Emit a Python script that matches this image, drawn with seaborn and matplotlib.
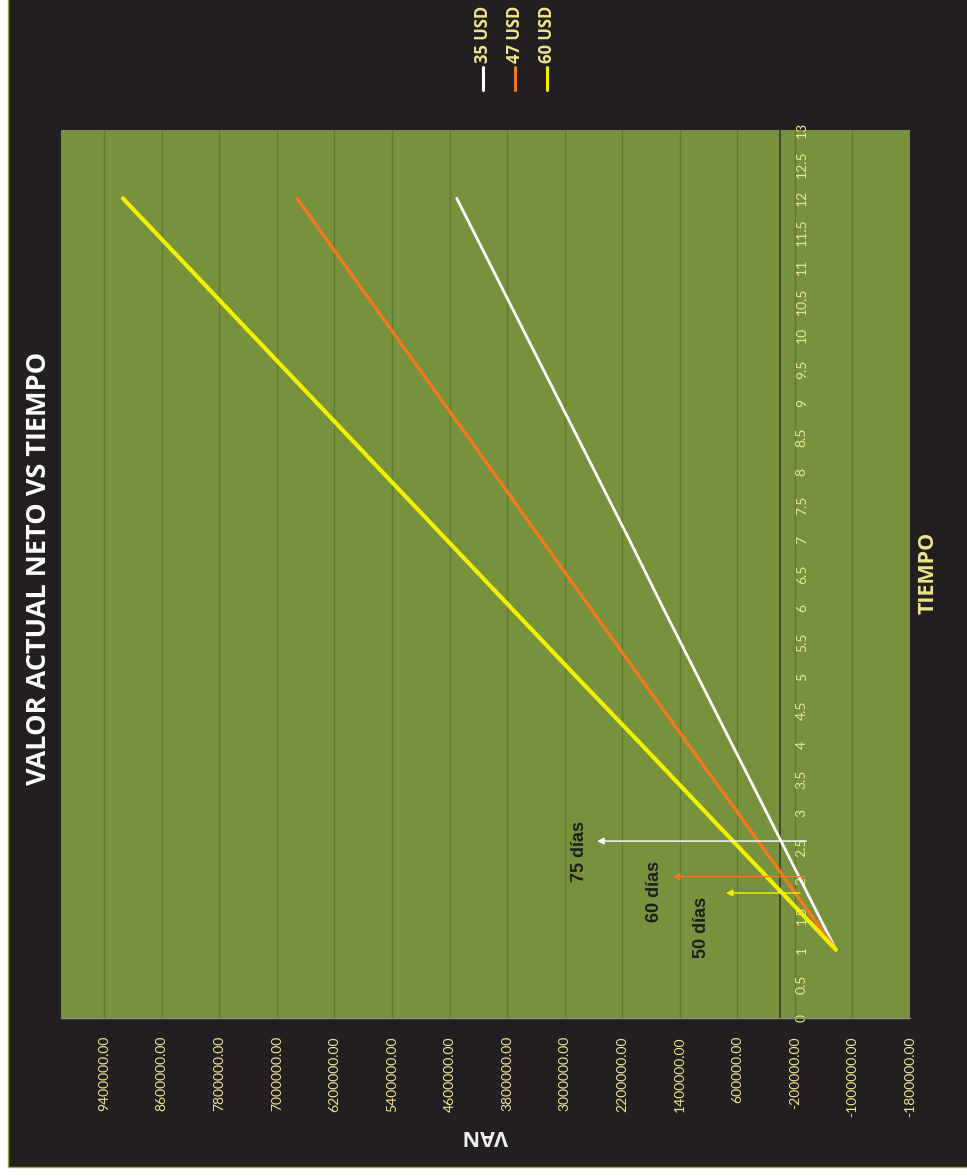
import matplotlib
matplotlib.use("Agg")
import matplotlib.pyplot as plt
from matplotlib.patches import Rectangle
from matplotlib.lines import Line2D
import seaborn as sns
import pandas as pd

# ---- data -------------------------------------------------------------
meses = [1, 2, 3, 4, 5, 6, 7, 8, 9, 10, 11, 12]
van_35 = [-770000, -290000, 190000, 670000, 1150000, 1630000,
          2100000, 2580000, 3060000, 3540000, 4020000, 4500000]
van_47 = [-770000, -90000, 590000, 1280000, 1960000, 2640000,
          3320000, 4000000, 4680000, 5360000, 6040000, 6720000]
van_60 = [-770000, 130000, 1030000, 1930000, 2840000, 3740000,
          4640000, 5540000, 6440000, 7340000, 8240000, 9140000]
series = ["35 USD", "47 USD", "60 USD"]

tiempo_ticks = [0, 0.5, 1, 1.5, 2, 2.5, 3, 3.5, 4, 4.5, 5, 5.5, 6, 6.5,
                7, 7.5, 8, 8.5, 9, 9.5, 10, 10.5, 11, 11.5, 12, 12.5, 13]
van_ticks = [9400000, 8600000, 7800000, 7000000, 6200000, 5400000, 4600000,
             3800000, 3000000, 2200000, 1400000, 600000, -200000, -1000000,
             -1800000]

# payback markers: (label, month, arrow start VAN, arrow tip VAN)
recuperacion = [("75 días", 2.59, -360000, 2550000),
                ("60 días", 2.07, -350000, 1500000),
                ("50 días", 1.83, -270000, 760000)]

# ---- styling ------------------------------------------------------------
sns.set_theme(style="white")
plt.rcParams["font.family"] = ["Lato", "DejaVu Sans"]
negrita = ["Open Sans", "DejaVu Sans"]

colores = {"35 USD": "#ffffff", "47 USD": "#f47a20", "60 USD": "#f2f000"}
grosores = {"35 USD": 2.0, "47 USD": 2.4, "60 USD": 3.0}
texto_claro = "#efe58f"
fondo = "#231f20"
verde = "#76923c"

W, H = 967, 1176
fig = plt.figure(figsize=(W / 100, H / 100), dpi=100, facecolor="white")
fig.patches.append(Rectangle((8 / W, 9 / H), 1.0, 1.0, transform=fig.transFigure,
                             facecolor=fondo, edgecolor="#8db04a", lw=1.0,
                             zorder=-5))

ax = fig.add_axes([61 / W, (H - 1018) / H, (910 - 61) / W, (1018 - 130) / H])
ax.set_zorder(2)
ax.set_facecolor(verde)

df = pd.DataFrame({
    "van": van_35 + van_47 + van_60,
    "mes": meses * 3,
    "serie": [s for s in series for _ in meses],
})

sns.lineplot(data=df, x="van", y="mes", hue="serie", hue_order=series,
             palette=colores, size="serie", sizes=grosores,
             sort=False, estimator=None, legend=False, ax=ax, zorder=4)

ax.set_xlim(10000000, -1800000)
ax.set_ylim(0, 13)
ax.set_xlabel("")
ax.set_ylabel("")

# value axis (drawn along the bottom, values decreasing to the right)
ax.set_xticks(van_ticks)
ax.set_xticklabels([f"{v:.2f}" for v in van_ticks], rotation=90,
                   color=texto_claro, fontsize=10)
ax.tick_params(axis="x", length=0, pad=13)
ax.grid(axis="x", color="#5d7a2f", lw=1.0)
ax.grid(axis="y", visible=False)

# time axis crossing at VAN = 0
ax.yaxis.tick_right()
ax.spines["right"].set_position(("data", 0))
ax.spines["right"].set_color("#3a3a32")
ax.spines["right"].set_linewidth(1.2)
ax.set_yticks(tiempo_ticks)
ax.set_yticklabels([f"{t:g}" for t in tiempo_ticks], rotation=90,
                   color=texto_claro, fontsize=10)
ax.tick_params(axis="y", length=0, pad=11)
for lab in ax.get_yticklabels():
    lab.set_verticalalignment("center")

ax.spines["bottom"].set_color("#8c8c8c")
ax.spines["bottom"].set_linewidth(1.0)
for s in ("left", "top"):
    ax.spines[s].set_visible(False)

# payback arrows and labels
for (txt, mes, x0, x1), s in zip(recuperacion, series):
    ax.annotate("", xy=(x1, mes), xytext=(x0, mes),
                arrowprops=dict(arrowstyle="-|>", color=colores[s], lw=1.0,
                                mutation_scale=10, shrinkA=0, shrinkB=0),
                zorder=5)
etiquetas_pos = [(2800000, 2.44), (1750000, 1.85), (1100000, 1.32)]
for (txt, *_), (x, y) in zip(recuperacion, etiquetas_pos):
    ax.text(x, y, txt, rotation=90, ha="center", va="center",
            fontsize=13, fontweight="bold", color="#1e1e1e",
            family=["Liberation Sans", "DejaVu Sans"], zorder=6)

# titles
fig.text(39 / W, 1 - 568 / H, "VALOR ACTUAL NETO VS TIEMPO", rotation=90,
         ha="center", va="center", color="white", fontsize=19.5,
         fontweight="bold", family=negrita)
fig.text(928 / W, 1 - 573 / H, "TIEMPO", rotation=90, ha="center",
         va="center", color=texto_claro, fontsize=15.5, fontweight="bold",
         family=negrita)
fig.text(485 / W, 1 - 1135 / H, "VAN", rotation=180, ha="center",
         va="center", color="#f2f2f2", fontsize=15.5, fontweight="bold",
         family=negrita)

# legend
for s, x in zip(series, [483, 515, 547]):
    fig.lines.append(Line2D([x / W, x / W], [1 - 67 / H, 1 - 90 / H],
                            transform=fig.transFigure, color=colores[s],
                            lw=2.2))
    fig.text(x / W, 1 - 34 / H, s, rotation=90, ha="center", va="center",
             color=texto_claro, fontsize=12, fontweight="bold",
             family=negrita)

fig.savefig("out.png", dpi=100, facecolor=fig.get_facecolor())
